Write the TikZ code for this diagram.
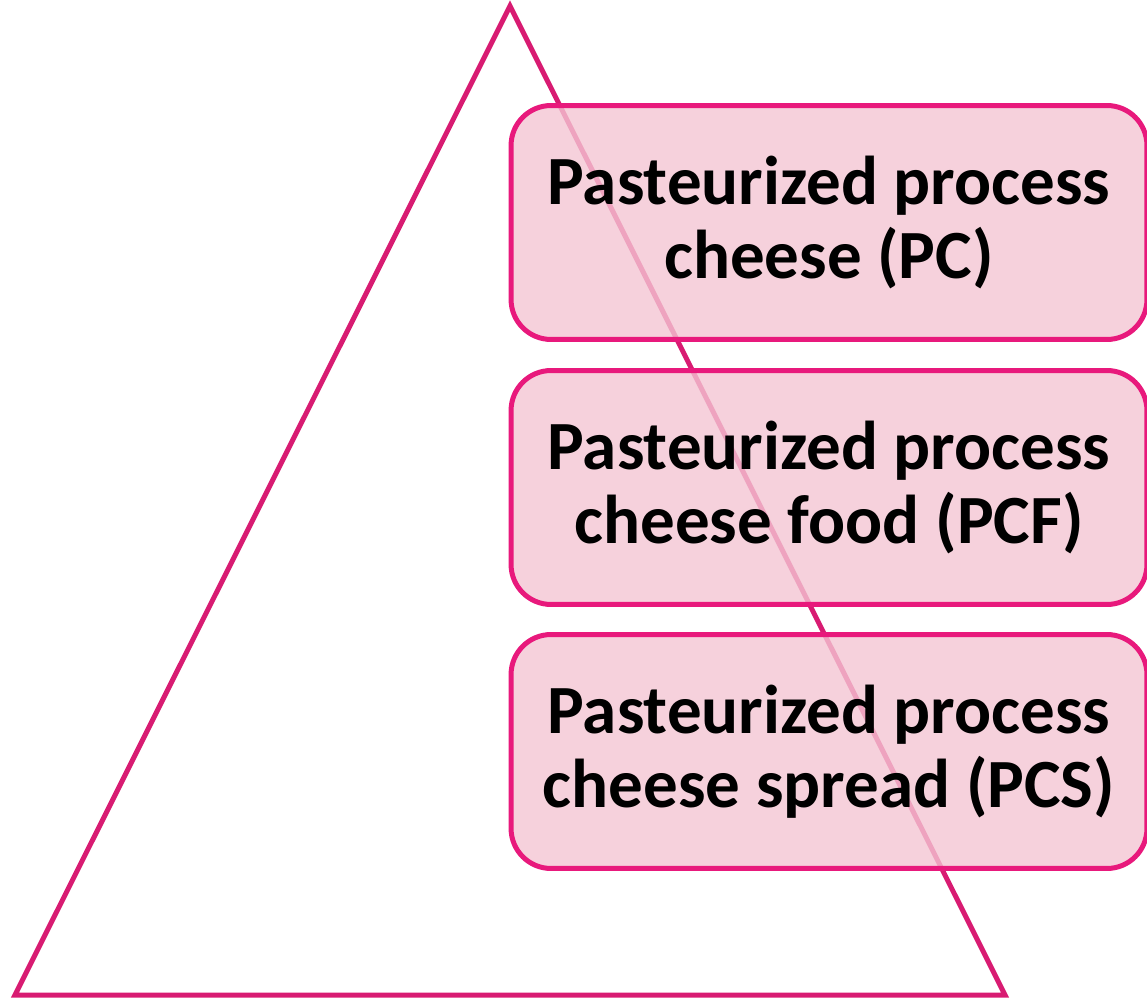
\documentclass[tikz,border=0pt]{standalone}
\usepackage{fontspec}
\setmainfont{Carlito}
\definecolor{pyrline}{RGB}{216,27,114}
\definecolor{boxline}{RGB}{232,25,124}
\definecolor{boxfill}{RGB}{244,198,211}
\tikzset{
	kind/.style={draw=boxline, line width=0.1cm, fill=boxfill, fill opacity=0.8, text opacity=1,
		rounded corners=0.8cm, minimum width=12.72cm, minimum height=4.68cm, align=center,
		font=\fontsize{39.3}{42}\selectfont\bfseries}
}
\begin{document}
\begin{tikzpicture}[x=0.02cm,y=-0.02cm]
	\useasboundingbox (0,0) rectangle (1147,1000);
	\draw[pyrline, line width=0.1cm, line join=miter] (15,995) -- (510,6) -- (1005,995) -- cycle;
	\node[kind] (pc) at (829,222.5) {Pasteurized process\\cheese (PC)};
	\node[kind] (pcf) at (829,487.5) {Pasteurized process\\cheese food (PCF)};
	\node[kind] (pcs) at (829,751.5) {Pasteurized process\\cheese spread (PCS)};
\end{tikzpicture}
\end{document}
